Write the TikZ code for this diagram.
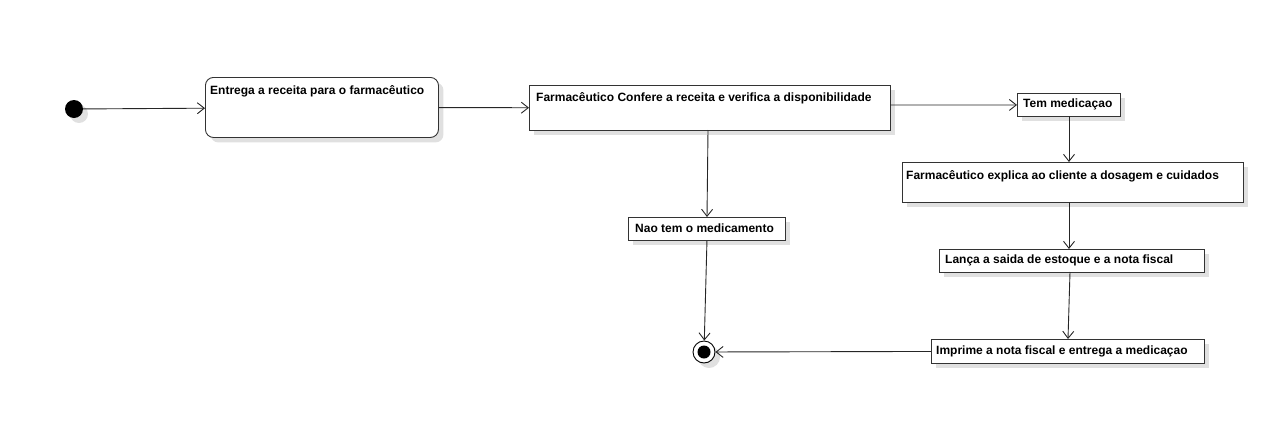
\documentclass[tikz,border=0pt]{standalone}
\usepackage{fontspec}
\setmainfont{Liberation Sans}
\usetikzlibrary{arrows.meta,shadows,calc}
\begin{document}
\begin{tikzpicture}[x=1pt,y=-1pt,
  shad/.style={drop shadow={shadow xshift=5pt,shadow yshift=-5pt,fill=black!12,opacity=1}},
  box/.style={draw=black!80,line width=0.9pt,fill=white,shad,anchor=north west,inner sep=0pt},
  rbox/.style={box,rounded corners=8pt},
  lbl/.style={font=\bfseries\fontsize{12}{14}\selectfont,anchor=west,inner sep=0pt},
  arr/.style={draw=black!85,line width=0.9pt,-{Straight Barb[length=7pt,width=11pt,line width=0.9pt]}}
]
\useasboundingbox (0,0) rectangle (1280,445);
\node[circle,fill=black,minimum size=18pt,inner sep=0pt,shad] (init) at (74,109) {};
\node[rbox,minimum width=233pt,minimum height=60pt] (b1) at (205,77) {};
\node[lbl] at (210,91) {Entrega a receita para o farmacêutico};
\node[box,minimum width=361pt,minimum height=45pt] (b2) at (529,85) {};
\node[lbl] at (536,98) {Farmacêutico Confere a receita e verifica a disponibilidade};
\node[box,minimum width=103pt,minimum height=23pt] (tem) at (1017,93) {};
\node[lbl] at (1023,104.5) {Tem medicaçao};
\node[box,minimum width=341pt,minimum height=40pt] (expl) at (902,162) {};
\node[lbl] at (906,176) {Farmacêutico explica ao cliente a dosagem e cuidados};
\node[box,minimum width=265pt,minimum height=23pt] (lanca) at (939,249) {};
\node[lbl] at (945,260.5) {Lança a saida de estoque e a nota fiscal};
\node[box,minimum width=273pt,minimum height=24pt] (impr) at (931,339) {};
\node[lbl] at (936,351) {Imprime a nota fiscal e entrega a medicaçao};
\node[box,minimum width=157pt,minimum height=23pt] (nao) at (628,217) {};
\node[lbl] at (635,228.5) {Nao tem o medicamento};
\node[circle,draw=black,line width=0.9pt,fill=white,minimum size=22pt,inner sep=0pt,shad] (fin) at (704,352) {};
\node[circle,fill=black,minimum size=13pt,inner sep=0pt] (finin) at (fin) {};
\coordinate (c1) at (1069,116);
\coordinate (c2) at (1069,202);
\coordinate (c3) at (1070,272);
\coordinate (c4) at (708,130);
\coordinate (c5) at (890,105);
\draw[arr] (init) -- (b1);
\draw[arr] (b1) -- (b2);
\draw[arr] (c5) -- (tem.west);
\draw[arr] (c1) -- (c1 |- expl.north);
\draw[arr] (c2) -- (c2 |- lanca.north);
\draw[arr] (c3) -- (1068,339 |- impr.north);
\draw[arr] (c4) -- (707,217 |- nao.north);
\draw[arr] (nao.south) -- (fin);
\draw[arr] (impr.west) -- (fin);
\end{tikzpicture}
\end{document}
